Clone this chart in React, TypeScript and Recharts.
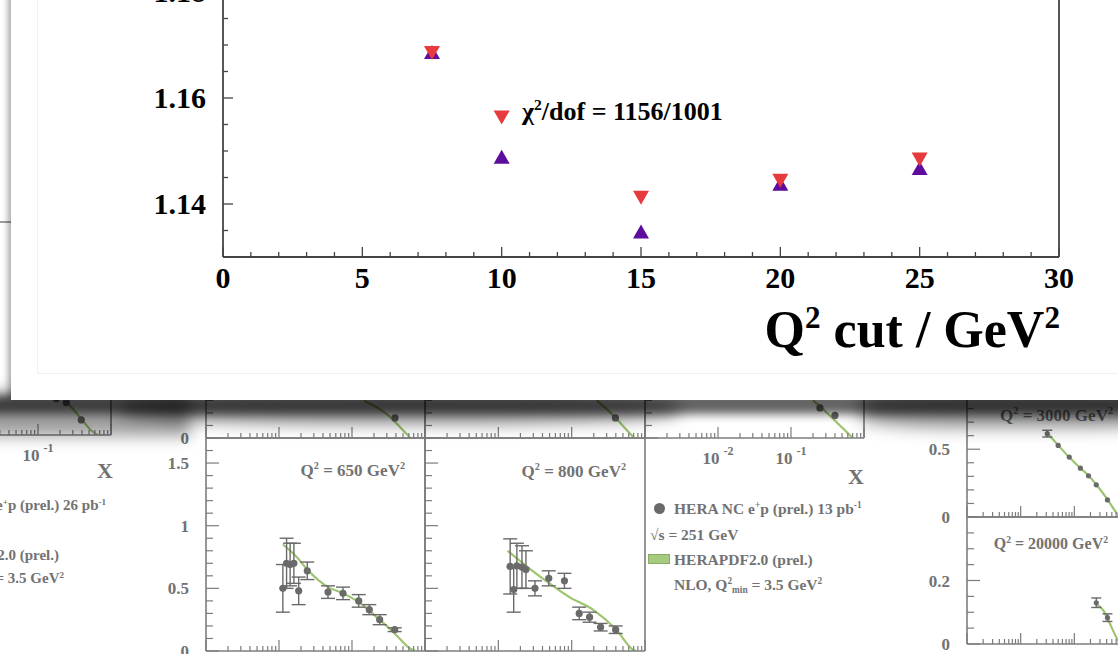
import React from 'react';
import {
  ScatterChart, Scatter, ComposedChart, Line, XAxis, YAxis, ReferenceLine, ErrorBar,
} from 'recharts';

const SERIF = '"Liberation Serif", "Times New Roman", serif';
const GRAY_TEXT = '#727272';
const GRAY_LINE = '#7c7c7c';
const DOT = '#6a6a6a';
const GREEN = '#9dc46e';

// ---- main plot: chi2/dof vs Q2 cut
const qCut = [7.5, 10, 15, 20, 25];
const chiDown = [1.1685, 1.1563, 1.1412, 1.1444, 1.1484];
const chiUp = [1.1687, 1.1489, 1.1348, 1.1438, 1.1468];
const mainXTicks = [0, 1, 2, 3, 4, 5, 6, 7, 8, 9, 10, 11, 12, 13, 14, 15, 16, 17, 18, 19, 20, 21, 22, 23, 24, 25, 26, 27, 28, 29, 30];
const mainXLabels = [0, 5, 10, 15, 20, 25, 30];
const mainYTicks = [1.13, 1.135, 1.14, 1.145, 1.15, 1.155, 1.16, 1.165, 1.17, 1.175, 1.18, 1.185, 1.19];
const mainYLabels = [1.14, 1.16, 1.18];

// ---- background panels (reduced cross sections, partly hidden)
const q650X = [0.0113, 0.0127, 0.0142, 0.016, 0.0186, 0.0244, 0.0469, 0.0753, 0.1236, 0.1726, 0.2395, 0.3845];
const q650Y = [0.5, 0.7, 0.69, 0.7, 0.48, 0.64, 0.47, 0.46, 0.4, 0.33, 0.25, 0.17];
const q650Err = [0.19, 0.2, 0.17, 0.16, 0.11, 0.07, 0.05, 0.05, 0.05, 0.04, 0.04, 0.015];
const q650CurveX = [0.0113, 0.0175, 0.0244, 0.0469, 0.0753, 0.1236, 0.2178, 0.3845, 0.624, 0.73];
const q650CurveY = [0.85, 0.75, 0.65, 0.51, 0.46, 0.39, 0.27, 0.14, 0.02, 0];

const q800X = [0.0145, 0.0162, 0.0179, 0.021, 0.0238, 0.0316, 0.0487, 0.0797, 0.1267, 0.1754, 0.248, 0.398];
const q800Y = [0.675, 0.49, 0.68, 0.67, 0.65, 0.5, 0.58, 0.56, 0.3, 0.27, 0.19, 0.17];
const q800Err = [0.22, 0.18, 0.18, 0.17, 0.15, 0.06, 0.06, 0.06, 0.05, 0.04, 0.03, 0.03];
const q800CurveX = [0.0134, 0.0264, 0.0496, 0.0933, 0.195, 0.407, 0.689, 0.75];
const q800CurveY = [0.8, 0.66, 0.54, 0.43, 0.33, 0.17, 0.01, 0];

const topAX = [0.388];
const topAY = [0.16];
const topACurveX = [0.146, 0.3, 0.45, 0.63];
const topACurveY = [0.3, 0.19, 0.09, 0];

const topBX = [0.395];
const topBY = [0.16];
const topBCurveX = [0.22, 0.4, 0.55, 0.71];
const topBCurveY = [0.3, 0.16, 0.07, 0];

const topCX = [0.249, 0.4];
const topCY = [0.24, 0.18];
const topCCurveX = [0.2, 0.3, 0.45, 0.7];
const topCCurveY = [0.3, 0.21, 0.11, 0];

const leftX = [0.178, 0.244, 0.392];
const leftY = [0.29, 0.26, 0.12];
const leftCurveX = [0.18, 0.25, 0.39, 0.55, 0.66];
const leftCurveY = [0.33, 0.26, 0.13, 0.03, 0];

const q3000X = [0.0313, 0.05, 0.0805, 0.1297, 0.1836, 0.2564, 0.414];
const q3000Y = [0.615, 0.528, 0.442, 0.36, 0.304, 0.237, 0.126];
const q3000Err = [0.025, 0, 0, 0, 0, 0, 0];
const q3000CurveX = [0.0313, 0.05, 0.0805, 0.13, 0.18, 0.256, 0.414, 0.61, 0.7];
const q3000CurveY = [0.62, 0.53, 0.44, 0.36, 0.31, 0.24, 0.13, 0.03, 0];

const q20000X = [0.2564, 0.414];
const q20000Y = [0.13, 0.083];
const q20000Err = [0.015, 0.012];
const q20000CurveX = [0.2564, 0.35, 0.414, 0.61, 0.7];
const q20000CurveY = [0.125, 0.105, 0.08, 0.02, 0];

const midYTicks = [0, 0.1, 0.2, 0.3, 0.4, 0.5, 0.6, 0.7, 0.8, 0.9, 1, 1.1, 1.2, 1.3, 1.4, 1.5, 1.6, 1.7];
const midYLabels = [0, 0.5, 1, 1.5];
const y3000Ticks = [0, 0.1, 0.2, 0.3, 0.4, 0.5, 0.6, 0.7, 0.8, 0.9];
const y3000Labels = [0, 0.5];
const y20000Ticks = [0, 0.05, 0.1, 0.15, 0.2, 0.25, 0.3, 0.35, 0.4];
const y20000Labels = [0, 0.2];

const logTicks = [
  ...[0.001, 0.01, 0.1].flatMap(d => [1, 2, 3, 4, 5, 6, 7, 8, 9].map(k => +(k * d).toPrecision(3))),
  1,
];

const zipPts = (xs: number[], ys: number[], es?: number[]) =>
  xs.map((x, i) => ({ x, y: ys[i], e: es ? es[i] : 0 }));

const near = (list: number[], v: number) => list.some(t => Math.abs(t - v) < 1e-9);

function Sup({ children }: { children: React.ReactNode }) {
  return <span style={{ fontSize: '0.6em', position: 'relative', top: '-0.62em' }}>{children}</span>;
}
function Sub({ children }: { children: React.ReactNode }) {
  return <span style={{ fontSize: '0.6em', position: 'relative', top: '0.3em' }}>{children}</span>;
}

function Txt({ x, y, size, anchor = 'start', color = GRAY_TEXT, children }: any) {
  const style: React.CSSProperties = {
    position: 'absolute', top: y - 0.84 * size, fontFamily: SERIF, fontWeight: 'bold',
    fontSize: size, lineHeight: 1, color, whiteSpace: 'nowrap',
  };
  if (anchor === 'end') style.right = 1118 - x;
  else if (anchor === 'middle') { style.left = x; style.transform = 'translateX(-50%)'; }
  else style.left = x;
  return <div style={style}>{children}</div>;
}

function MainXTick({ x, y, payload }: any) {
  const major = near(mainXLabels, payload.value);
  return (
    <g>
      <line x1={x} x2={x} y1={y} y2={y - (major ? 10 : 5)} stroke="#444" strokeWidth={1.3} />
      {major && (
        <text x={x} y={y + 31} textAnchor="middle" fontFamily={SERIF} fontWeight="bold" fontSize={30} fill="#000">
          {payload.value}
        </text>
      )}
    </g>
  );
}

function MainYTick({ x, y, payload }: any) {
  const major = near(mainYLabels, payload.value);
  return (
    <g>
      <line x1={x} x2={x + (major ? 10 : 5)} y1={y} y2={y} stroke="#444" strokeWidth={1.3} />
      {major && (
        <text x={x - 17} y={y + 10} textAnchor="end" fontFamily={SERIF} fontWeight="bold" fontSize={30} fill="#000">
          {payload.value.toFixed(2)}
        </text>
      )}
    </g>
  );
}

const TriDown = ({ cx, cy }: any) => (
  <polygon points={`${cx - 8},${cy - 7} ${cx + 8},${cy - 7} ${cx},${cy + 7}`} fill="#e63a3d" />
);
const TriUp = ({ cx, cy }: any) => (
  <polygon points={`${cx - 8},${cy + 7} ${cx + 8},${cy + 7} ${cx},${cy - 7}`} fill="#5e0c9e" />
);

function PanelXTick({ x, y, payload, labels }: any) {
  const v = payload.value;
  const lg = Math.log10(v);
  const decade = Math.abs(lg - Math.round(lg)) < 1e-6;
  const showLabel = labels && near(labels, v);
  return (
    <g>
      <line x1={x} x2={x} y1={y} y2={y - (decade ? 11 : 5)} stroke={GRAY_LINE} strokeWidth={1.2} />
      {showLabel && (
        <text x={x} y={y + 26} textAnchor="middle" fontFamily={SERIF} fontWeight="bold" fontSize={17} fill={GRAY_TEXT}>
          10<tspan dx={4} dy={-9} fontSize={12}>{Math.round(lg)}</tspan>
        </text>
      )}
    </g>
  );
}

function PanelYTick({ x, y, payload, labels, showLabels }: any) {
  const major = near(labels, payload.value);
  return (
    <g>
      <line x1={x} x2={x + (major ? 13 : 7)} y1={y} y2={y} stroke={GRAY_LINE} strokeWidth={1.2} />
      {major && showLabels && (
        <text x={x - 17} y={y + 6} textAnchor="end" fontFamily={SERIF} fontWeight="bold" fontSize={17} fill={GRAY_TEXT}>
          {payload.value}
        </text>
      )}
    </g>
  );
}

interface PanelProps {
  left: number; top: number; width: number; height: number;
  yMax: number; yTicks: number[]; yLabels: number[]; showYLabels?: boolean;
  xLabels?: number[]; points: { x: number; y: number; e: number }[];
  curve: { x: number; y: number; e: number }[]; dotR: number; capW?: number;
}

function Panel({ left, top, width, height, yMax, yTicks, yLabels, showYLabels, xLabels, points, curve, dotR, capW = 7 }: PanelProps) {
  return (
    <div style={{ position: 'absolute', left: left - 60, top: top - 10 }}>
      <ComposedChart width={width + 70} height={height + 50} margin={{ top: 10, right: 10, left: 0, bottom: 0 }}>
        <XAxis
          type="number" dataKey="x" scale="log" domain={[0.001, 1]} allowDataOverflow
          ticks={logTicks} interval={0} tickSize={0} tickMargin={0} tickLine={false} height={40}
          axisLine={{ stroke: GRAY_LINE, strokeWidth: 1.6 }}
          tick={(p: any) => <PanelXTick {...p} labels={xLabels} />}
        />
        <YAxis
          type="number" dataKey="y" domain={[0, yMax]} allowDataOverflow
          ticks={yTicks} interval={0} tickSize={0} tickMargin={0} tickLine={false} width={60}
          axisLine={{ stroke: GRAY_LINE, strokeWidth: 1.6 }}
          tick={(p: any) => <PanelYTick {...p} labels={yLabels} showLabels={showYLabels} />}
        />
        <ReferenceLine x={1} stroke={GRAY_LINE} strokeWidth={1.6} />
        <ReferenceLine y={yMax} stroke={GRAY_LINE} strokeWidth={1.6} />
        <Line data={curve} dataKey="y" type="monotone" stroke={GREEN} strokeWidth={2.2} dot={false} isAnimationActive={false} />
        <Scatter
          data={points} isAnimationActive={false}
          shape={(p: any) => <circle cx={p.cx} cy={p.cy} r={dotR} fill={DOT} />}
        >
          <ErrorBar dataKey="e" direction="y" width={capW} stroke={DOT} strokeWidth={1.4} />
        </Scatter>
      </ComposedChart>
    </div>
  );
}

export default function App() {
  const downData = qCut.map((x, i) => ({ x, y: chiDown[i] }));
  const upData = qCut.map((x, i) => ({ x, y: chiUp[i] }));

  return (
    <div style={{ position: 'absolute', left: 0, top: 0, width: 1118, height: 654, overflow: 'hidden', background: '#fff' }}>
      {/* background figure */}
      <Panel left={-108} top={222} width={219} height={213} yMax={1.7} yTicks={midYTicks} yLabels={midYLabels}
        xLabels={[0.01, 0.1]} points={zipPts(leftX, leftY)} curve={zipPts(leftCurveX, leftCurveY)} dotR={3.6} />
      <Panel left={206} top={225} width={219} height={213} yMax={1.7} yTicks={midYTicks} yLabels={midYLabels} showYLabels
        points={zipPts(topAX, topAY)} curve={zipPts(topACurveX, topACurveY)} dotR={3.6} />
      <Panel left={425} top={225} width={220} height={213} yMax={1.7} yTicks={midYTicks} yLabels={midYLabels}
        points={zipPts(topBX, topBY)} curve={zipPts(topBCurveX, topBCurveY)} dotR={3.6} />
      <Panel left={645} top={225} width={219} height={213} yMax={1.7} yTicks={midYTicks} yLabels={midYLabels}
        xLabels={[0.01, 0.1]} points={zipPts(topCX, topCY)} curve={zipPts(topCCurveX, topCCurveY)} dotR={3.6} />
      <Panel left={206} top={438} width={219} height={213} yMax={1.7} yTicks={midYTicks} yLabels={midYLabels} showYLabels
        points={zipPts(q650X, q650Y, q650Err)} curve={zipPts(q650CurveX, q650CurveY)} dotR={3.6} />
      <Panel left={425} top={438} width={220} height={213} yMax={1.7} yTicks={midYTicks} yLabels={midYLabels}
        points={zipPts(q800X, q800Y, q800Err)} curve={zipPts(q800CurveX, q800CurveY)} dotR={3.6} />
      <Panel left={967} top={395} width={161} height={122} yMax={0.9} yTicks={y3000Ticks} yLabels={y3000Labels} showYLabels
        points={zipPts(q3000X, q3000Y, q3000Err)} curve={zipPts(q3000CurveX, q3000CurveY)} dotR={2.6} capW={5} />
      <Panel left={967} top={517} width={161} height={127} yMax={0.4} yTicks={y20000Ticks} yLabels={y20000Labels} showYLabels
        points={zipPts(q20000X, q20000Y, q20000Err)} curve={zipPts(q20000CurveX, q20000CurveY)} dotR={2.6} capW={5} />

      <Txt x={405} y={476} size={17} anchor="end">Q<Sup>2</Sup> = 650 GeV<Sup>2</Sup></Txt>
      <Txt x={626} y={477} size={17} anchor="end">Q<Sup>2</Sup> = 800 GeV<Sup>2</Sup></Txt>
      <Txt x={1113} y={421} size={17} anchor="end">Q<Sup>2</Sup> = 3000 GeV<Sup>2</Sup></Txt>
      <Txt x={1108} y={549} size={16} anchor="end">Q<Sup>2</Sup> = 20000 GeV<Sup>2</Sup></Txt>
      <Txt x={105} y={478} size={22} anchor="middle">X</Txt>
      <Txt x={856} y={484} size={22} anchor="middle">X</Txt>

      <Txt x={106} y={511} size={15} anchor="end">HERA NC e<Sup>+</Sup>p (prel.) 26 pb<Sup>-1</Sup></Txt>
      <Txt x={59} y={561} size={15} anchor="end">HERAPDF2.0 (prel.)</Txt>
      <Txt x={64} y={584} size={15} anchor="end">NLO, Q<Sup>2</Sup><Sub>min</Sub> = 3.5 GeV<Sup>2</Sup></Txt>

      <div style={{ position: 'absolute', left: 654, top: 503, width: 11, height: 11, borderRadius: '50%', background: DOT }} />
      <Txt x={674} y={514} size={15.5}>HERA NC e<Sup>+</Sup>p (prel.) 13 pb<Sup>-1</Sup></Txt>
      <Txt x={650} y={540} size={15.5}>√s = 251 GeV</Txt>
      <div style={{ position: 'absolute', left: 648, top: 554, width: 20, height: 8, background: '#a7cb7e', border: '1px solid #8aab62' }} />
      <Txt x={674} y={565} size={15.5}>HERAPDF2.0 (prel.)</Txt>
      <Txt x={674} y={590} size={15.5}>NLO, Q<Sup>2</Sup><Sub>min</Sub> = 3.5 GeV<Sup>2</Sup></Txt>

      {/* shadow of the lifted page */}
      <div style={{ position: 'absolute', left: -20, top: 392, width: 210, height: 44, background: 'rgba(0,0,0,0.38)', filter: 'blur(8px)' }} />
      <div style={{ position: 'absolute', left: 120, top: 394, width: 560, height: 30, borderRadius: '40%', background: 'rgba(0,0,0,0.45)', filter: 'blur(8px)' }} />
      <div style={{ position: 'absolute', left: 860, top: 392, width: 320, height: 34, borderRadius: '30%', background: 'rgba(0,0,0,0.5)', filter: 'blur(9px)' }} />
      <div style={{ position: 'absolute', left: -40, top: 396, width: 1220, height: 18, background: 'rgba(0,0,0,0.62)', filter: 'blur(5px)' }} />

      {/* the enlarged page */}
      <div style={{ position: 'absolute', left: 11, top: -20, width: 1200, height: 420, background: '#fff', boxShadow: '-3px 0 6px rgba(0,0,0,0.35)' }} />
      <div style={{ position: 'absolute', left: 37, top: -20, width: 1200, height: 392, border: '1px solid #f0f0f0' }} />

      <div style={{ position: 'absolute', left: 0, top: -100 }}>
        <ScatterChart width={1118} height={500} margin={{ top: 39, right: 59, left: 163, bottom: 103 }}>
          <XAxis
            type="number" dataKey="x" domain={[0, 30]} allowDataOverflow ticks={mainXTicks} interval={0}
            tickSize={0} tickMargin={0} tickLine={false} height={40}
            axisLine={{ stroke: '#444', strokeWidth: 1.8 }} tick={(p: any) => <MainXTick {...p} />}
          />
          <YAxis
            type="number" dataKey="y" domain={[1.13, 1.19]} allowDataOverflow ticks={mainYTicks} interval={0}
            tickSize={0} tickMargin={0} tickLine={false} width={60}
            axisLine={{ stroke: '#444', strokeWidth: 1.8 }} tick={(p: any) => <MainYTick {...p} />}
          />
          <ReferenceLine x={30} stroke="#444" strokeWidth={1.8} />
          <ReferenceLine y={1.19} stroke="#444" strokeWidth={1.8} />
          <Scatter data={upData} shape={<TriUp />} isAnimationActive={false} />
          <Scatter data={downData} shape={<TriDown />} isAnimationActive={false} />
        </ScatterChart>
      </div>

      <Txt x={522} y={121} size={26} color="#000">χ<Sup>2</Sup>/dof = 1156/1001</Txt>
      <Txt x={1060} y={348} size={52} anchor="end" color="#000">Q<Sup>2</Sup> cut / GeV<Sup>2</Sup></Txt>
    </div>
  );
}
